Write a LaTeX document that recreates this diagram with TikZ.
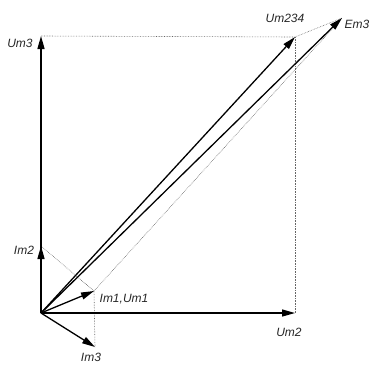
\documentclass[tikz,border=0pt]{standalone}
\usepackage{fontspec}
\setmainfont{Liberation Sans}
\usetikzlibrary{arrows.meta}
\begin{document}
\begin{tikzpicture}[x=1pt,y=-1pt,
  vec/.style={line width=1.3pt,-{Triangle[length=13pt,width=7pt]}},
  aux/.style={densely dotted,line width=0.6pt,gray!80!black},
  lbl/.style={font=\itshape\fontsize{12}{13}\selectfont,inner sep=1pt,text=black!85}]
\useasboundingbox (0,0) rectangle (372,365);
\coordinate (O) at (41,313);
\coordinate (Um3) at (41,36);
\coordinate (Um2) at (295,313);
\coordinate (Um234) at (295,37);
\coordinate (Em3) at (342,18);
\coordinate (Im2) at (41,246);
\coordinate (Im1) at (94,291);
\coordinate (Im3) at (95,347);
% auxiliary dotted lines
\draw[aux] (Um3) -- (Um234);
\draw[aux] (Um2) -- (Um234);
\draw[aux] (Um234) -- (Em3);
\draw[aux] (Im1) -- (Em3);
\draw[aux] (Im2) -- (Im1);
\draw[aux] (Im1) -- (Im3);
% vectors
\draw[vec] (O) -- (Um3);
\draw[vec] (O) -- (Um2);
\draw[vec] (O) -- (Um234);
\draw[vec] (O) -- (Em3);
\draw[vec] (O) -- (Im2);
\draw[vec] (O) -- (Im1);
\draw[vec] (O) -- (Im3);
% labels
\node[lbl] (lUm3) at (20,43) {Um3};
\node[lbl] (lIm2) at (24,250) {Im2};
\node[lbl] (lIm1) at (124,299) {Im1,Um1};
\node[lbl] (lIm3) at (91,357) {Im3};
\node[lbl] (lUm2) at (289,332) {Um2};
\node[lbl] (lUm234) at (285,18) {Um234};
\node[lbl] (lEm3) at (357,24) {Em3};
\end{tikzpicture}
\end{document}
